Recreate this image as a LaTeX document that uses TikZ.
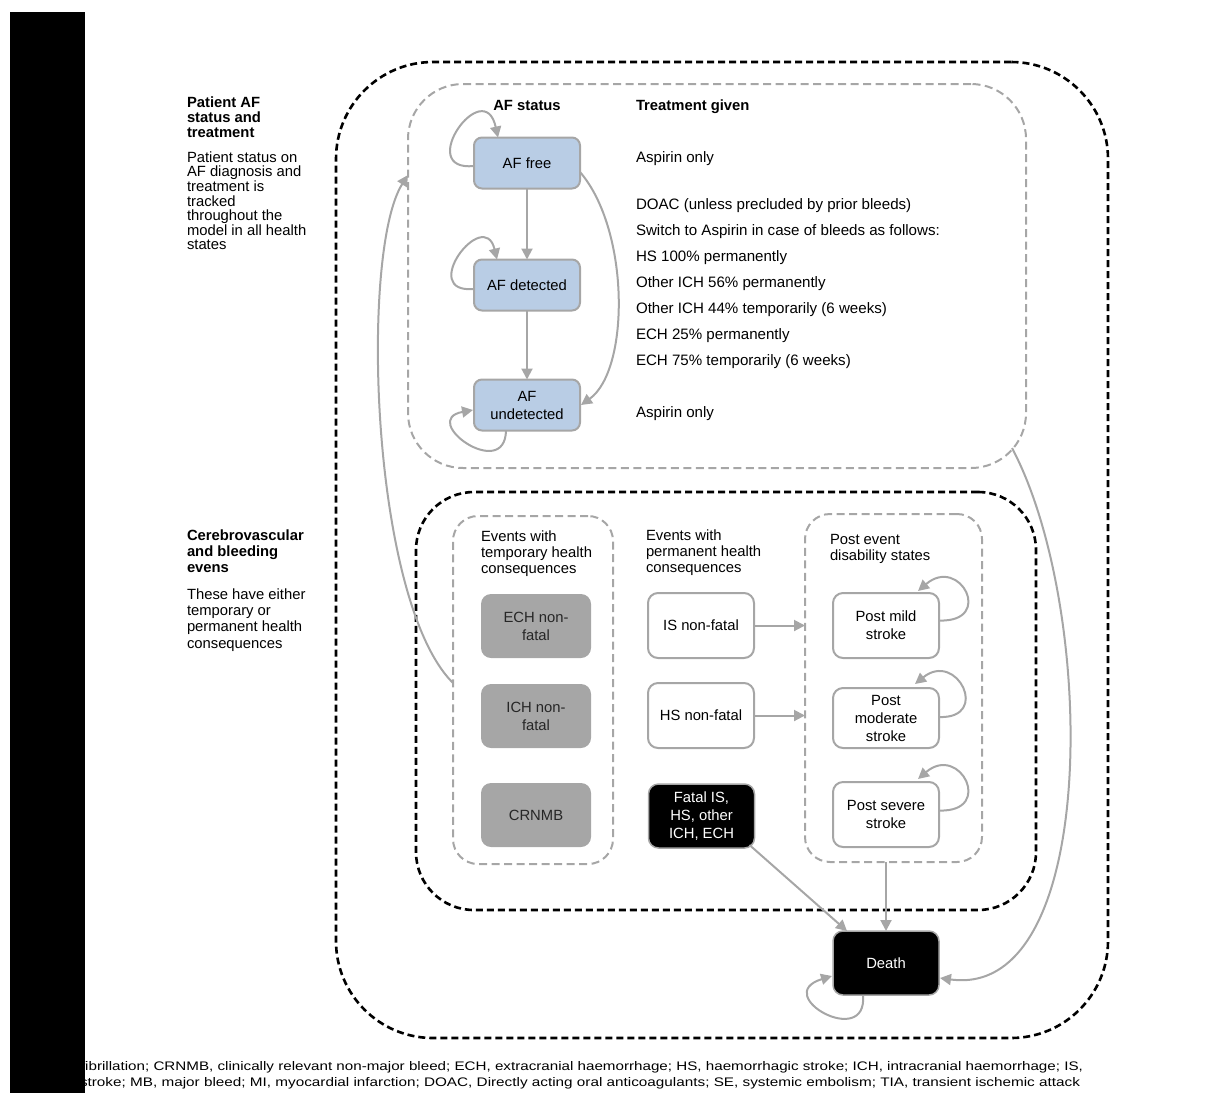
\documentclass[tikz,border=0pt]{standalone}
\usepackage{fontspec}
\setmainfont{Liberation Sans}
\usepackage{graphicx}
\usetikzlibrary{arrows.meta,calc}
\definecolor{lgray}{HTML}{A6A6A6}
\definecolor{afblue}{HTML}{B9CDE5}
\definecolor{boxgray}{HTML}{A6A6A6}
\newcommand\mainfs{\fontsize{14.8}{18}\selectfont}
\newcommand\treatfs{\fontsize{15.1}{18}\selectfont}
\begin{document}
\begin{tikzpicture}[x=1pt,y=-1pt,
  every node/.style={inner sep=0pt, outer sep=0pt},
  afbox/.style={draw=lgray, line width=2pt, fill=afblue, rounded corners=8pt, minimum width=106pt, minimum height=51pt, align=center, font=\mainfs},
  graybox/.style={fill=boxgray, rounded corners=10pt, minimum width=110pt, minimum height=64pt, align=center, font=\mainfs, text=black!85},
  whitebox/.style={draw=lgray, line width=2pt, fill=white, rounded corners=10pt, minimum width=106pt, minimum height=65pt, align=center, font=\mainfs},
  blackbox/.style={draw=lgray, line width=1.5pt, fill=black, text=white, rounded corners=10pt, minimum width=106pt, minimum height=64pt, align=center, font=\mainfs},
  graydash/.style={draw=lgray, line width=2pt, dash pattern=on 8pt off 4.5pt},
  blackdash/.style={draw=black, line width=2.6pt, dash pattern=on 7pt off 4pt},
  arr/.style={draw=lgray, line width=2pt, -{Triangle[length=11pt,width=11pt]}},
  txt/.style={font=\treatfs, anchor=base west},
]
\useasboundingbox (0,0) rectangle (1206,1093);

% containers
\node[blackdash, rounded corners=97pt, minimum width=772pt, minimum height=976pt] (outer) at (722,550) {};
\node[graydash, rounded corners=55pt, minimum width=618pt, minimum height=384pt] (topbox) at (717,276) {};
\node[blackdash, rounded corners=58pt, minimum width=620pt, minimum height=418pt] (botbox) at (726,701) {};
\node[graydash, rounded corners=25pt, minimum width=160pt, minimum height=348pt] (tempbox) at (533,690) {};
\node[graydash, rounded corners=25pt, minimum width=177pt, minimum height=348pt] (postbox) at (893.5,688) {};

% AF status boxes
\node[afbox] (affree) at (527,163) {AF free};
\node[afbox] (afdet) at (527,285) {AF detected};
\node[afbox] (afund) at (527,405) {AF\\undetected};

% temporary events
\node[graybox] (ech) at (536,626) {ECH non-\\fatal};
\node[graybox] (ich) at (536,716) {ICH non-\\fatal};
\node[graybox] (crnmb) at (536,815) {CRNMB};

% permanent events
\node[whitebox] (isnf) at (701,625.5) {IS non-fatal};
\node[whitebox] (hsnf) at (701,715.5) {HS non-fatal};
\node[blackbox] (fatal) at (701.5,816) {Fatal IS,\\HS, other\\ICH, ECH};

% post event states
\node[whitebox] (pmild) at (886,625.5) {Post mild\\stroke};
\node[whitebox, minimum height=60pt] (pmod) at (886,718) {Post\\moderate\\stroke};
\node[whitebox] (psev) at (886,814.5) {Post severe\\stroke};
\node[blackbox] (death) at (886,963) {Death};

% headings and texts
\node[txt, font=\mainfs\bfseries, anchor=base] (hafstatus) at (527,110) {AF status};
\node[txt, font=\mainfs\bfseries] (htreat) at (636,110) {Treatment given};
\node[txt] (t1) at (636,162) {Aspirin only};
\node[txt] (t2) at (636,209) {DOAC (unless precluded by prior bleeds)};
\node[txt] (t3) at (636,235) {Switch to Aspirin in case of bleeds as follows:};
\node[txt] (t4) at (636,261) {HS 100\% permanently};
\node[txt] (t5) at (636,287) {Other ICH 56\% permanently};
\node[txt] (t6) at (636,313) {Other ICH 44\% temporarily (6 weeks)};
\node[txt] (t7) at (636,339) {ECH 25\% permanently};
\node[txt] (t8) at (636,365) {ECH 75\% temporarily (6 weeks)};
\node[txt] (t9) at (636,417) {Aspirin only};

\node[anchor=north west, align=left, font=\fontsize{14.8}{15}\selectfont\bfseries] (lt1) at (187,96.5) {Patient AF\\status and\\treatment};
\node[anchor=north west, align=left, font=\fontsize{14.8}{14.6}\selectfont] (lb1) at (187,151.5) {Patient status on\\AF diagnosis and\\treatment is\\tracked\\throughout the\\model in all health\\states};
\node[anchor=north west, align=left, font=\fontsize{14.8}{16}\selectfont\bfseries] (lt2) at (187,529.5) {Cerebrovascular\\and bleeding\\evens};
\node[anchor=north west, align=left, font=\fontsize{14.8}{16.3}\selectfont] (lb2) at (187,588.5) {These have either\\temporary or\\permanent health\\consequences};

\node[anchor=north west, align=left, font=\fontsize{14.8}{16.3}\selectfont] (htemp) at (481,530.5) {Events with\\temporary health\\consequences};
\node[anchor=north west, align=left, font=\fontsize{14.8}{16.3}\selectfont] (hperm) at (646,529.5) {Events with\\permanent health\\consequences};
\node[anchor=north west, align=left, font=\fontsize{14.8}{16.3}\selectfont] (hpost) at (830,534.5) {Post event\\disability states};

% connectors
\draw[arr] ($(affree.west)+(0,3)$) .. controls +(-60,6) and +(-14,-64) .. ($(affree.north)+(-29,0)$);
\draw[arr] ($(afdet.west)+(0,4)$) .. controls +(-57,5) and +(-13,-54) .. ($(afdet.north)+(-30,0)$);
\draw[arr] ($(afund.south)+(-21,0)$) .. controls +(-1,52) and +(-55,10) .. ($(afund.west)+(-1,5)$);
\draw[arr] (affree) -- (afdet);
\draw[arr] (afdet) -- (afund);
\draw[arr] ($(affree.east)+(0,9)$) .. controls +(50,58) and +(49,-35) .. ($(afund.east)+(1,0)$);
\draw[arr] ($(tempbox.west)+(0,-7)$) .. controls +(-83,-83) and +(-48,75) .. ($(topbox.west)+(0,-101)$);
\draw[arr] (isnf.east) -- (isnf.east -| postbox.west);
\draw[arr] (hsnf.east) -- (hsnf.east -| postbox.west);
\draw[arr] ($(pmild.east)+(0,-5)$) .. controls +(56,2) and +(42,-36) .. ($(pmild.north)+(32,-2)$);
\draw[arr] ($(pmod.east)+(0,-1)$) .. controls +(52,2) and +(42,-34) .. ($(pmod.north)+(29,-4)$);
\draw[arr] ($(psev.east)+(0,-4)$) .. controls +(56,2) and +(42,-36) .. ($(psev.north)+(32,-3)$);
\draw[arr] (death.north |- postbox.south) -- (death.north);
\draw[arr] ($(fatal.south east)+(-5,-3)$) -- ($(death.north west)+(14,0)$);
\draw[arr] ($(topbox.south east)+(-14,-20)$) .. controls +(85,160) and +(160,22) .. ($(death.east)+(1,15)$);
\draw[arr] ($(death.south)+(-23,0)$) .. controls +(5,55) and +(-62,19) .. ($(death.west)+(-1,13)$);

% footer
\node[anchor=base west] (foot1) at (81,1070) {\resizebox{1002pt}{9pt}{\fontsize{12}{14}\selectfont fibrillation; CRNMB, clinically relevant non-major bleed; ECH, extracranial haemorrhage; HS, haemorrhagic stroke; ICH, intracranial haemorrhage; IS,}};
\node[anchor=base west] (foot2) at (80,1086) {\resizebox{1000pt}{9pt}{\fontsize{12}{14}\selectfont stroke; MB, major bleed; MI, myocardial infarction; DOAC, Directly acting oral anticoagulants; SE, systemic embolism; TIA, transient ischemic attack}};

% black bar
\fill[black] (10,12) rectangle (85,1093);
\end{tikzpicture}
\end{document}
